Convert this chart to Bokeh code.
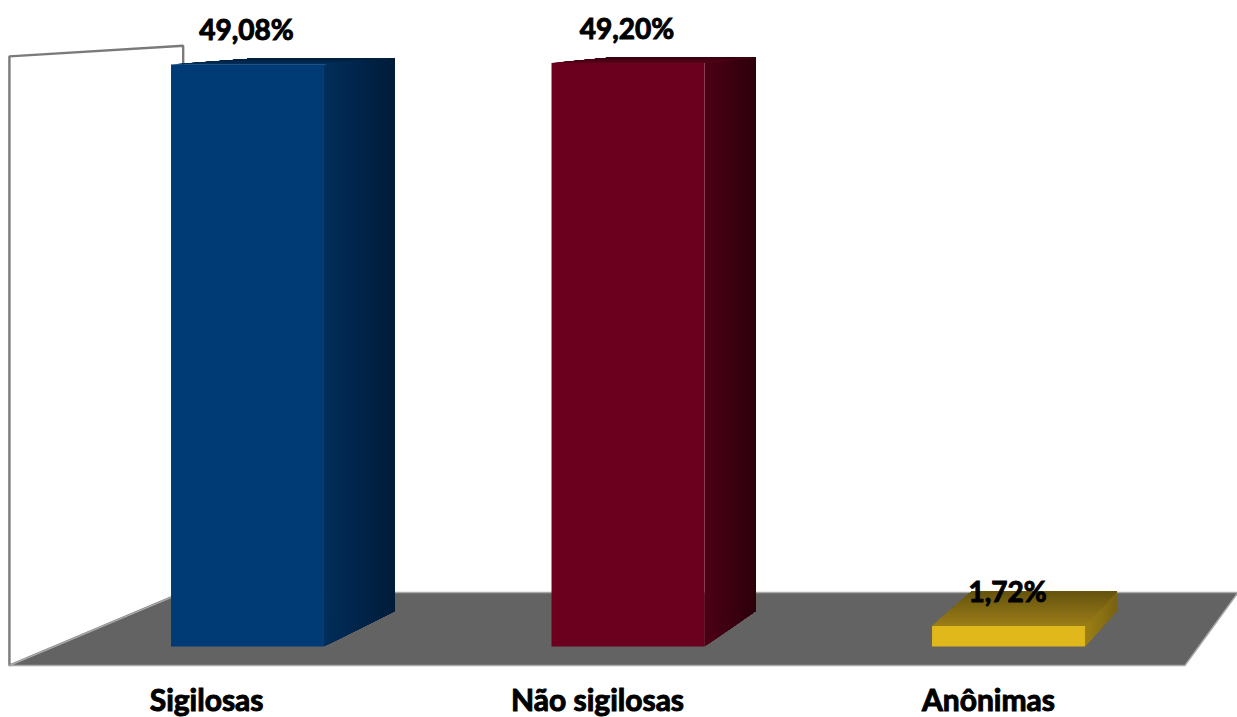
from bokeh.plotting import figure
from bokeh.embed import file_html
from bokeh.resources import INLINE
from bokeh.core.properties import value
from bokeh.models import Range1d

categories = ["Sigilosas", "Não sigilosas", "Anônimas"]
values = [49.08, 49.20, 1.72]
value_labels = ["49,08%", "49,20%", "1,72%"]
front_colors = ["#003b76", "#6a001e", "#e0b81c"]
side_front = [(1, 46, 90), (76, 0, 22), (158, 128, 22)]
side_back = [(0, 27, 56), (44, 0, 12), (120, 98, 18)]
top_front = [(0, 48, 95), (90, 0, 25), (155, 125, 24)]
top_back = [(0, 30, 60), (56, 0, 15), (100, 83, 14)]

AXIS_MAX = 50
BAR_WIDTH = 0.402
CAT_LO, CAT_HI = -0.507, 2.5
VP_X, VP_V = 3.826, 58.5        # vanishing point of the oblique 3D view
S_FLOOR_FRONT, S_FLOOR_BACK = 1.0274, 0.922
S_BAR_FRONT, S_BAR_BACK = 1.0, 0.9486

PX_PER_CAT, CAT0_PX = 380.5, 247.0
PX_PER_VAL, ZERO_PX = 11.858, 646.0
W, H = 1237, 717


def proj(x, v, s):
    return VP_X + (x - VP_X) * s, VP_V + (v - VP_V) * s


def hex_mix(a, b, t):
    return "#%02x%02x%02x" % tuple(round(a[i] + (b[i] - a[i]) * t) for i in range(3))


p = figure(width=W, height=H, output_backend="svg", toolbar_location=None,
           x_range=Range1d(-CAT0_PX / PX_PER_CAT, (W - CAT0_PX) / PX_PER_CAT),
           y_range=Range1d((ZERO_PX - H) / PX_PER_VAL, ZERO_PX / PX_PER_VAL),
           min_border=0, outline_line_color=None, background_fill_color="white",
           x_axis_location=None, y_axis_location=None)
p.grid.visible = False

# back wall
wall = [proj(CAT_LO, 0, S_FLOOR_FRONT), proj(CAT_LO, AXIS_MAX, S_FLOOR_FRONT),
        proj(CAT_LO, AXIS_MAX, S_FLOOR_BACK), proj(CAT_LO, 0, S_FLOOR_BACK)]
p.patch([c[0] for c in wall], [c[1] for c in wall], fill_color="white",
        line_color="#7a7a7a", line_width=2.4)

# floor
floor = [proj(CAT_LO, 0, S_FLOOR_FRONT), proj(CAT_HI, 0, S_FLOOR_FRONT),
         proj(CAT_HI, 0, S_FLOOR_BACK), proj(CAT_LO, 0, S_FLOOR_BACK)]
p.patch([c[0] for c in floor], [c[1] for c in floor], fill_color="#636363",
        line_color="#a8a8a8", line_width=1.5)

# bars: side and top faces are nested gradient steps painted front to back,
# the front is a real vbar
STRIPS = 36
S_DELTA = S_BAR_BACK - S_BAR_FRONT
for i, v in enumerate(values):
    l, r = i - BAR_WIDTH / 2, i + BAR_WIDTH / 2
    xs_side, ys_side, col_side, xs_top, ys_top, col_top = [], [], [], [], [], []
    for k in range(STRIPS):
        t0 = k / STRIPS
        s0 = S_BAR_FRONT + S_DELTA * t0
        s1 = S_BAR_BACK
        a, b, c, d = proj(r, 0, s0), proj(r, 0, s1), proj(r, v, s1), proj(r, v, s0)
        xs_side.append([a[0], b[0], c[0], d[0]])
        ys_side.append([a[1], b[1], c[1], d[1]])
        col_side.append(hex_mix(side_front[i], side_back[i], t0))
        a, b, c, d = proj(l, v, s0), proj(r, v, s0), proj(r, v, s1), proj(l, v, s1)
        xs_top.append([a[0], b[0], c[0], d[0]])
        ys_top.append([a[1], b[1], c[1], d[1]])
        col_top.append(hex_mix(top_front[i], top_back[i], t0))
    p.patches(xs_side, ys_side, fill_color=col_side, line_color=None)
    p.patches(xs_top, ys_top, fill_color=col_top, line_color=None)

p.vbar(x=list(range(len(values))), top=values, bottom=0, width=BAR_WIDTH,
       fill_color=front_colors, line_color=None)

# value labels
p.text(x=[i - 1 / PX_PER_CAT for i in range(len(values))], y=[v + 3 for v in values],
       text=value_labels, text_font=value("Lato"), text_font_style="bold",
       text_font_size="28px", text_color="black", text_align="center",
       text_baseline="middle", outline_color="black")

# category labels, centred on the front edge of the floor
cat_x = [proj(i, 0, S_FLOOR_FRONT)[0] - 1 / PX_PER_CAT for i in range(len(categories))]
p.text(x=cat_x, y=[(ZERO_PX - 698) / PX_PER_VAL] * len(categories), text=categories,
       text_font=value("Lato"), text_font_style="bold", text_font_size="30px",
       text_color="black", text_align="center", text_baseline="middle",
       outline_color="black")

open("out.html", "w").write(file_html(p, INLINE))
